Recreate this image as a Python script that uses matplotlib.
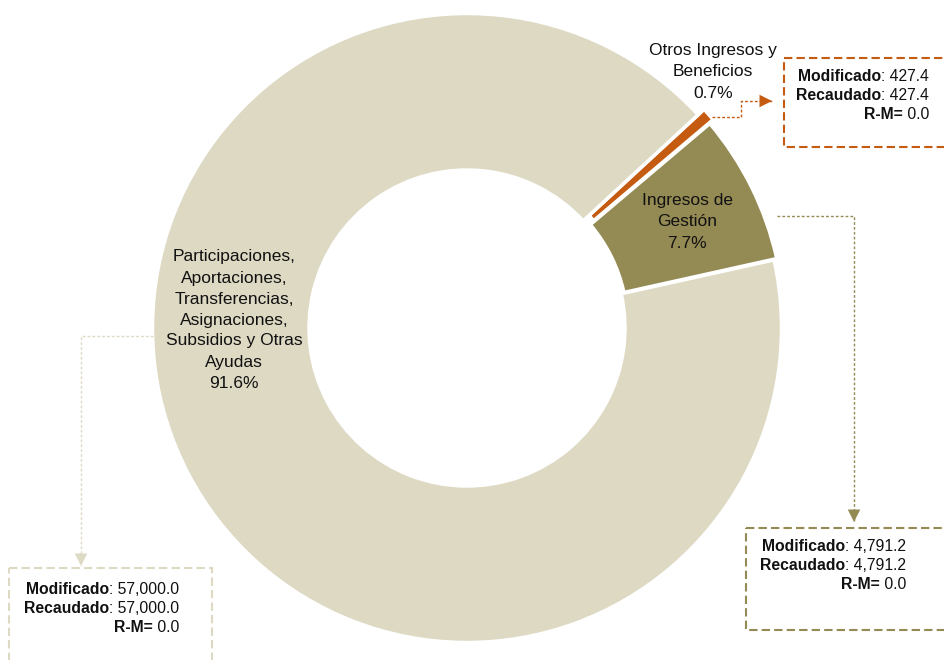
import matplotlib
matplotlib.use("Agg")
import matplotlib.pyplot as plt

# data
categories = ["Otros Ingresos y\nBeneficios",
              "Ingresos de\nGestión",
              "Participaciones,\nAportaciones,\nTransferencias,\nAsignaciones,\nSubsidios y Otras\nAyudas"]
modificado = [427.4, 4791.2, 57000.0]
recaudado = [427.4, 4791.2, 57000.0]
colors = ["#C55A11", "#948A54", "#DDD9C3"]


def fmt(v):
    return "{:,.1f}".format(v)


def main():
    plt.rcParams['font.family'] = ['Liberation Sans', 'DejaVu Sans']
    fig = plt.figure(figsize=(9.45, 6.6), dpi=100)
    ax = fig.add_axes([0, 0, 1, 1])

    total = sum(modificado)
    pct = [v / total * 100 for v in modificado]

    # donut, pixel coordinates with y pointing down
    cx, cy, r = 467, 328, 314.5
    ax.pie(modificado, colors=colors, startangle=-42.7, counterclock=True,
           center=(cx, cy), radius=r, explode=[8, 3, 0],
           wedgeprops=dict(width=156.5, edgecolor="white", linewidth=2.5))
    ax.set_xlim(0, 945)
    ax.set_ylim(660, 0)
    ax.set_aspect("equal")
    ax.axis("off")

    # slice labels
    label_pos = [(713, 72), (687, 222), (234, 320)]
    for cat, p, (lx, ly) in zip(categories, pct, label_pos):
        ax.text(lx, ly, "{}\n{:.1f}%".format(cat, p), ha="center",
                va="center", fontsize=12.5, color="#111111",
                linespacing=1.5)

    # callout boxes: (x0, y0, x1, y1), right edge of text, first baseline
    boxes = [(784, 58, 946, 147), (746, 528, 946, 630), (9, 568, 212, 670)]
    text_right = [929, 906, 179]
    text_top = [81, 551, 594]
    # leader lines (path in pixel coords)
    leaders = [[(712, 117), (741, 117), (741, 101), (772, 101)],
               [(777, 216), (854, 216), (854, 522)],
               [(153, 336), (81, 336), (81, 566)]]

    for i in range(3):
        x0, y0, x1, y1 = boxes[i]
        rect = plt.Rectangle((x0, y0), x1 - x0, y1 - y0, fill=False,
                             edgecolor=colors[i], linewidth=1.5,
                             linestyle=(0, (4, 2)), clip_on=False)
        ax.add_patch(rect)

        pts = leaders[i]
        xs = [p[0] for p in pts]
        ys = [p[1] for p in pts]
        ax.plot(xs, ys, color=colors[i], linewidth=1.0,
                linestyle=(0, (2, 1.5)))
        ax.annotate("", xy=pts[-1], xytext=pts[-2],
                    arrowprops=dict(arrowstyle="-|>,head_length=0.9,"
                                    "head_width=0.45",
                                    color=colors[i], linewidth=0,
                                    shrinkA=0, shrinkB=0))

        lines = [("Modificado", ": " + fmt(modificado[i])),
                 ("Recaudado", ": " + fmt(recaudado[i])),
                 ("R-M=", " " + fmt(recaudado[i] - modificado[i]))]
        for j, (bold, rest) in enumerate(lines):
            y = text_top[i] + j * 19
            t = ax.text(text_right[i], y, rest, ha="right", va="baseline",
                        fontsize=11.3, color="#111111")
            ax.annotate(bold, xy=(0, 0), xycoords=t, ha="right",
                        va="bottom", fontsize=11.3, fontweight="bold",
                        color="#111111")

    fig.savefig("out.png", dpi=100)


if __name__ == "__main__":
    main()
